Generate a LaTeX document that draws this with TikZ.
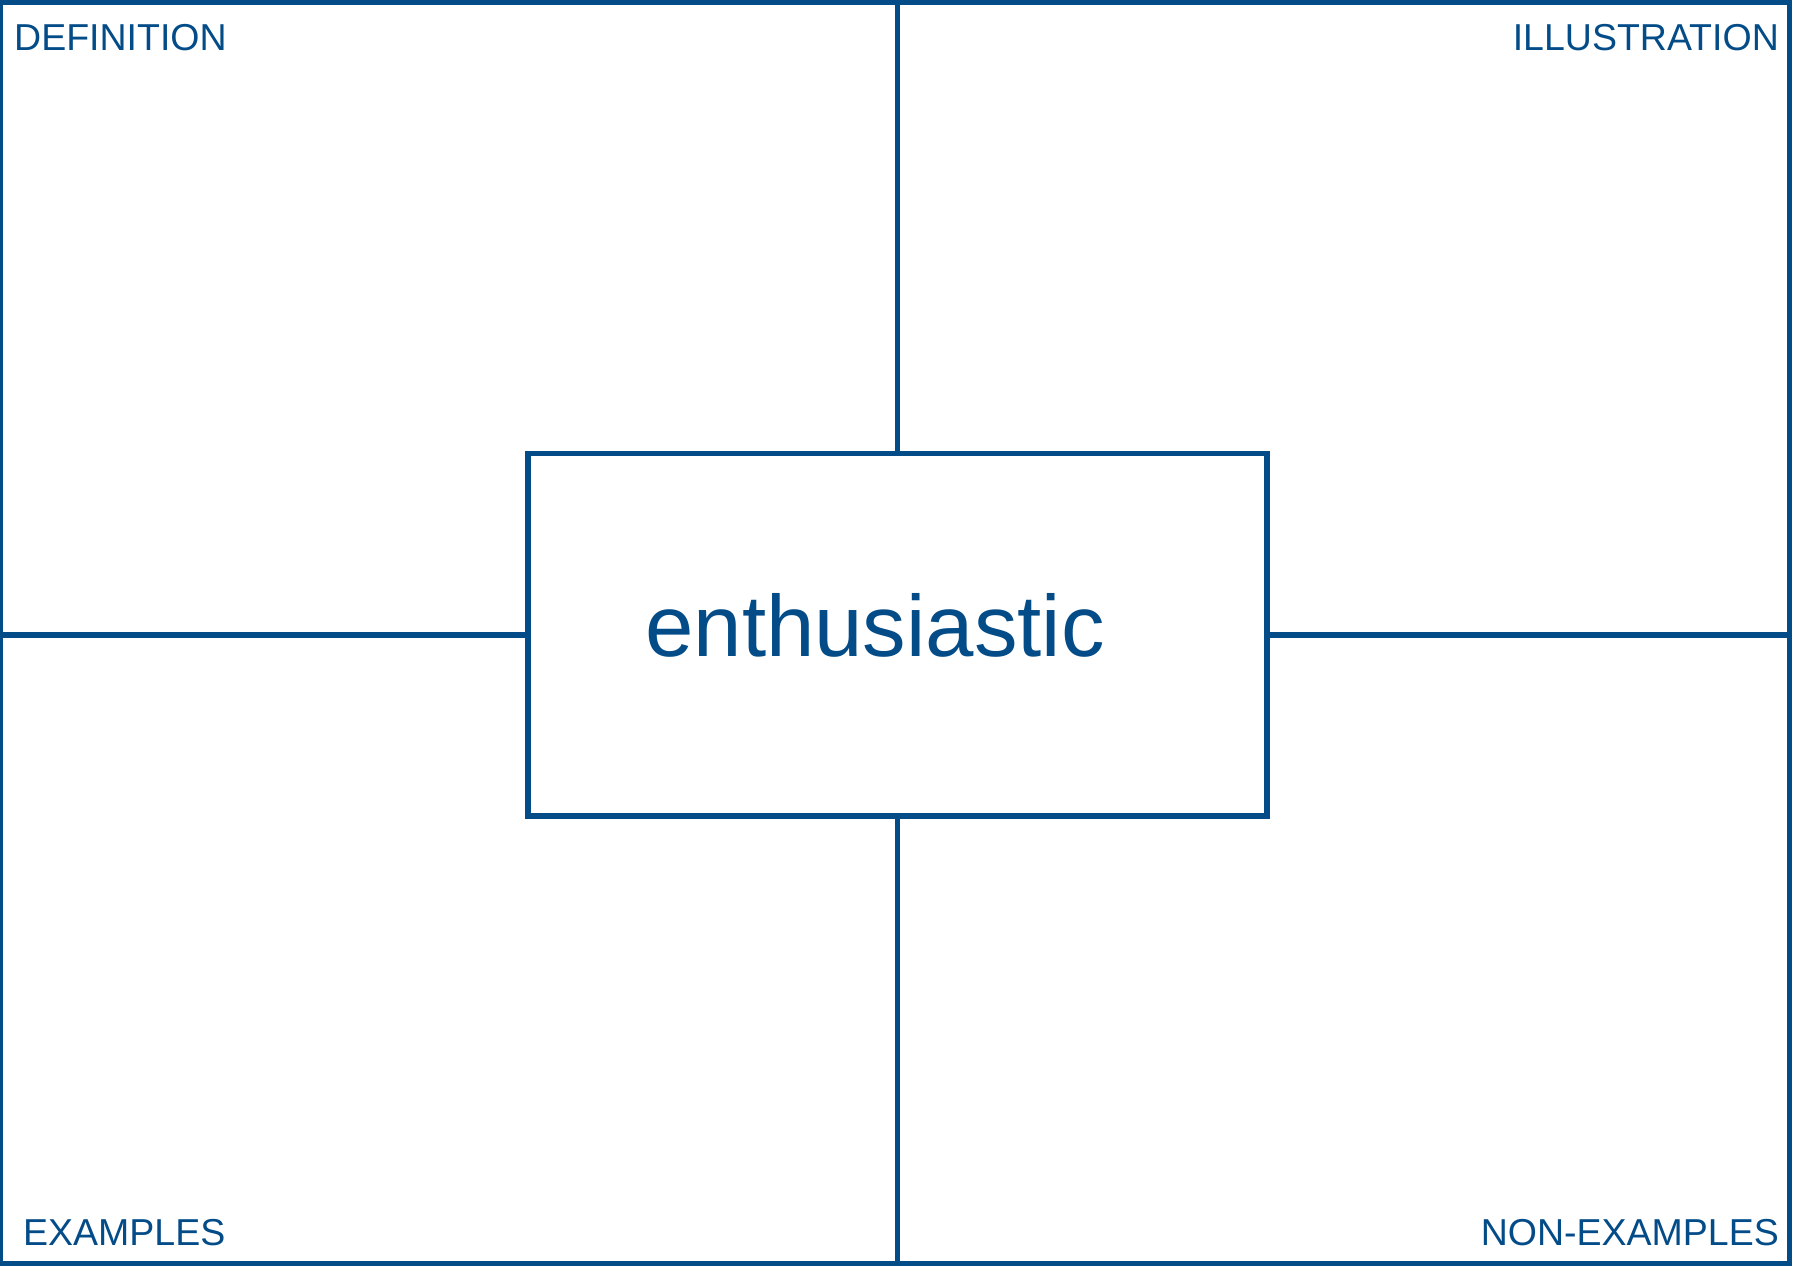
\documentclass[tikz,border=0pt]{standalone}
\usepackage{fontspec}
\setmainfont{Liberation Sans}
\definecolor{fblue}{RGB}{4,76,136}
\begin{document}
\begin{tikzpicture}[x=1pt,y=-1pt,
  frame/.style={draw=fblue,line width=5.5pt,inner sep=0pt,outer sep=0pt},
  divider/.style={draw=fblue,line width=5.5pt},
  lbl/.style={text=fblue,inner sep=0pt,font=\fontsize{37.5}{40}\selectfont},
  word/.style={text=fblue,inner sep=0pt,font=\fontsize{87}{100}\selectfont}]
\useasboundingbox (0,0) rectangle (1797,1266);
\node[frame,minimum width=1789pt,minimum height=1261pt] (outer) at (895,633) {};
\node[frame,minimum width=739pt,minimum height=362.5pt,fill=white] (box) at (897.5,634.75) {};
\draw[divider] (box.north) -- (box.north |- outer.north);
\draw[divider] (box.south) -- (box.south |- outer.south);
\draw[divider] (box.west) -- (box.west -| outer.west);
\draw[divider] (box.east) -- (box.east -| outer.east);
\node[word,anchor=base] (term) at (875,656) {enthusiastic};
\node[lbl,anchor=base west] (def) at (14,50) {DEFINITION};
\node[lbl,anchor=base east] (ill) at (1779,50) {ILLUSTRATION};
\node[lbl,anchor=base west] (ex) at (23,1245) {EXAMPLES};
\node[lbl,anchor=base east] (nonex) at (1779,1245) {NON-EXAMPLES};
\end{tikzpicture}
\end{document}
